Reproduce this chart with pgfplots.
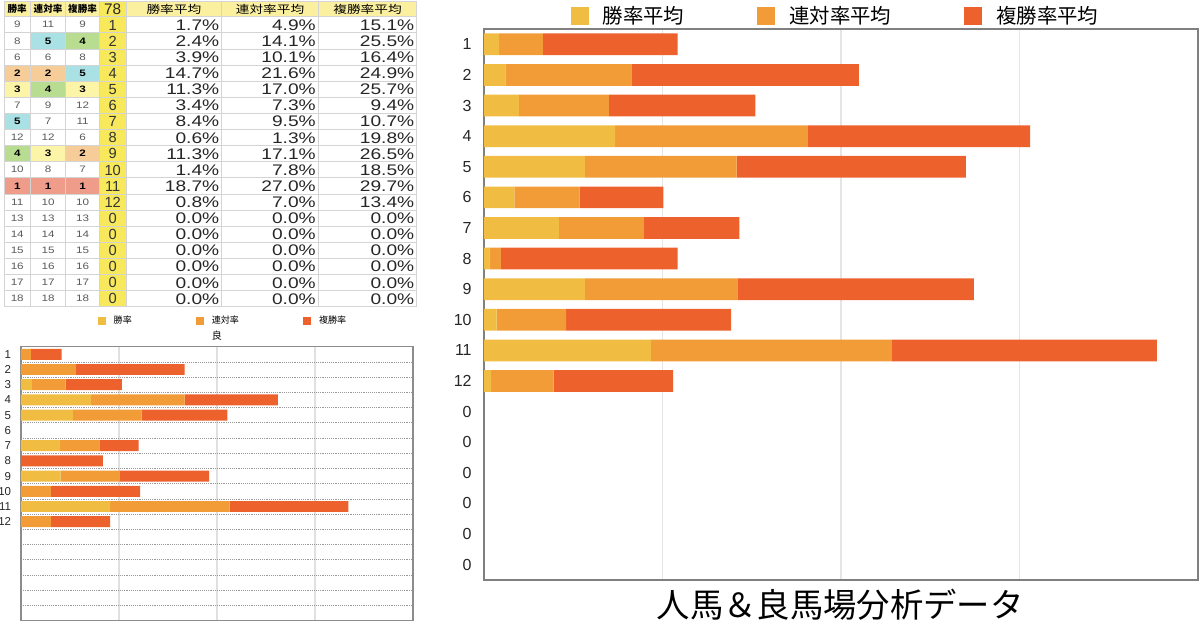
\documentclass[border=0pt]{standalone}
\usepackage{pgfplots}
\pgfplotsset{compat=1.18}
\usepackage{pgfplotstable}
\usepackage{fontspec}
\setmainfont{Liberation Sans}
\newfontfamily\jp{Noto Sans CJK JP}
\newfontfamily\tabnum{Liberation Sans}[FakeStretch=1.25]
\newfontfamily\tabjp{Noto Sans CJK JP}[FakeStretch=1.25]

\definecolor{cY}{HTML}{F0BD42}
\definecolor{cO}{HTML}{F29C38}
\definecolor{cR}{HTML}{EC612C}
\definecolor{rk1}{HTML}{EF9C8A}
\definecolor{rk2}{HTML}{F6CC98}
\definecolor{rk3}{HTML}{FCF5A8}
\definecolor{rk4}{HTML}{B8DC90}
\definecolor{rk5}{HTML}{A9E1E4}
\definecolor{hdr}{HTML}{FBF0A0}
\definecolor{col78}{HTML}{F8E85C}
\definecolor{tgrid}{HTML}{D4D4D4}

\pgfplotstableread{
r win ren fuku
1 1.7 4.9 15.1
2 2.4 14.1 25.5
3 3.9 10.1 16.4
4 14.7 21.6 24.9
5 11.3 17.0 25.7
6 3.4 7.3 9.4
7 8.4 9.5 10.7
8 0.6 1.3 19.8
9 11.3 17.1 26.5
10 1.4 7.8 18.5
11 18.7 27.0 29.7
12 0.8 7.0 13.4
13 0 0 0
14 0 0 0
15 0 0 0
16 0 0 0
17 0 0 0
18 0 0 0
}\bigdata

\pgfplotstableread{
r win ren fuku
1 0 2.0 6.3
2 0 11.2 22.2
3 2.2 6.9 11.5
4 14.3 19.1 19.0
5 10.6 14.0 17.5
6 0 0 0
7 8.0 8.0 8.0
8 0 0 16.7
9 8.1 12.1 18.2
10 0 6.1 18.2
11 18.2 24.4 24.2
12 0 6.1 12.1
13 0 0 0
14 0 0 0
15 0 0 0
16 0 0 0
17 0 0 0
18 0 0 0
}\smalldata

\pgfplotsset{
  sqbig/.style={legend image code/.code={\fill[##1] (0pt,-6.75pt) rectangle (13.5pt,6.75pt);}},
  sqsmall/.style={legend image code/.code={\fill[##1] (0pt,-3pt) rectangle (6pt,3pt);}},
}

% rank cell: xl xr yt yb value
\newcommand\rk[5]{%
  \ifnum#5<6 \fill[rk#5] (#1,#3) rectangle (#2,#4);%
    \node[inner sep=0pt,font=\tabnum\bfseries\fontsize{7}{7}\selectfont,text=black] at ({(#1+#2)/2},{(#3+#4)/2}) {#5};%
  \else
    \node[inner sep=0pt,font=\tabnum\fontsize{7}{7}\selectfont,text=black!65] at ({(#1+#2)/2},{(#3+#4)/2}) {#5};%
  \fi}

\begin{document}
\begin{tikzpicture}
\path[use as bounding box] (0,0) rectangle (900pt,-467.25pt);

% ---------- table ----------
\begin{scope}[x=0.75pt,y=-0.75pt]
  \fill[hdr] (4,1) rectangle (416.7,16.7);
  \fill[col78] (99.5,1) rectangle (126,306.7);
  \foreach \i/\a/\b/\c/\n/\p/\q/\r in {
    1/9/11/9/1/1.7/4.9/15.1,
    2/8/5/4/2/2.4/14.1/25.5,
    3/6/6/8/3/3.9/10.1/16.4,
    4/2/2/5/4/14.7/21.6/24.9,
    5/3/4/3/5/11.3/17.0/25.7,
    6/7/9/12/6/3.4/7.3/9.4,
    7/5/7/11/7/8.4/9.5/10.7,
    8/12/12/6/8/0.6/1.3/19.8,
    9/4/3/2/9/11.3/17.1/26.5,
    10/10/8/7/10/1.4/7.8/18.5,
    11/1/1/1/11/18.7/27.0/29.7,
    12/11/10/10/12/0.8/7.0/13.4,
    13/13/13/13/0/0.0/0.0/0.0,
    14/14/14/14/0/0.0/0.0/0.0,
    15/15/15/15/0/0.0/0.0/0.0,
    16/16/16/16/0/0.0/0.0/0.0,
    17/17/17/17/0/0.0/0.0/0.0,
    18/18/18/18/0/0.0/0.0/0.0}{
    \pgfmathsetmacro\yt{16.7+(\i-1)*16.11}
    \pgfmathsetmacro\yb{\yt+16.11}
    \pgfmathsetmacro\yc{\yt+8.3}
    \rk{4}{30.5}{\yt}{\yb}{\a}
    \rk{30.5}{65.7}{\yt}{\yb}{\b}
    \rk{65.7}{99.5}{\yt}{\yb}{\c}
    \node[inner sep=0pt,font=\fontsize{11}{11}\selectfont,text=black!80] at (112.75,\yc) {\n};
    \node[inner sep=0pt,anchor=east,font=\tabnum\fontsize{11.5}{11.5}\selectfont,text=black!85] at (219.5,\yc) {\p\%};
    \node[inner sep=0pt,anchor=east,font=\tabnum\fontsize{11.5}{11.5}\selectfont,text=black!85] at (316,\yc) {\q\%};
    \node[inner sep=0pt,anchor=east,font=\tabnum\fontsize{11.5}{11.5}\selectfont,text=black!85] at (414.5,\yc) {\r\%};
  }
  \foreach \k in {0,...,18}{\draw[tgrid,line width=0.5pt] (4,{16.7+\k*16.11}) -- (416.7,{16.7+\k*16.11});}
  \draw[tgrid,line width=0.5pt] (4,1) -- (416.7,1);
  \foreach \x in {4,30.5,65.7,99.5,126,221.7,318.3,416.7}{\draw[tgrid,line width=0.5pt] (\x,1) -- (\x,306.7);}
  % headers
  \node[inner sep=0pt,font=\jp\bfseries\fontsize{7.2}{7.2}\selectfont] at (17.25,9) {勝率};
  \node[inner sep=0pt,font=\jp\bfseries\fontsize{7.2}{7.2}\selectfont] at (48.1,9) {連対率};
  \node[inner sep=0pt,font=\jp\bfseries\fontsize{7.2}{7.2}\selectfont] at (82.6,9) {複勝率};
  \node[inner sep=0pt,font=\fontsize{11.5}{11.5}\selectfont,text=black!85] at (112.75,9.3) {78};
  \node[inner sep=0pt,font=\tabjp\fontsize{8.2}{8.2}\selectfont] at (173.85,9) {勝率平均};
  \node[inner sep=0pt,font=\tabjp\fontsize{8.2}{8.2}\selectfont] at (270,9) {連対率平均};
  \node[inner sep=0pt,font=\tabjp\fontsize{8.2}{8.2}\selectfont] at (367.5,9) {複勝率平均};
\end{scope}

% ---------- small chart ----------
\begin{axis}[
  at={(15.75pt,-465.5pt)}, anchor=south west,
  scale only axis, width=294pt, height=205.5pt,
  xbar stacked, bar width=0.72,
  enlargelimits=false,
  xmin=0, xmax=80, ymin=0.5, ymax=18.5, y dir=reverse,
  xtick={20,40,60}, xticklabels={}, xmajorgrids,
  major grid style={draw=black!12, line width=0.9pt},
  ytick={1,...,18}, yticklabels={1,2,3,4,5,6,7,8,9,10,11,12,{},{},{},{},{},{}},
  minor ytick={1.5,2.5,...,17.5}, yminorgrids,
  minor grid style={densely dotted, draw=black!40, line width=0.5pt},
  major tick length=0pt, minor tick length=0pt,
  axis line style={draw=black!45, line width=0.9pt},
  yticklabel style={font=\fontsize{8.6}{9}\selectfont, text=black!85, xshift=-3.9pt},
  title={\jp 良},
  every axis title/.style={at={(0.5,1)}, anchor=center, yshift=8pt, inner sep=0pt, font=\fontsize{7.5}{8}\selectfont},
  legend style={at={(0.5,1)}, anchor=center, yshift=19.3pt, xshift=3.75pt, draw=none, fill=none,
    font=\jp\fontsize{6.8}{7}\selectfont, legend columns=3, nodes={inner sep=0pt},
    /tikz/every odd column/.append style={column sep=6pt},
    /tikz/every even column/.append style={column sep=48pt}},
  legend cell align=left,
]
\addplot[fill=cY, draw=none, sqsmall] table[x=win, y=r] {\smalldata};
\addplot[fill=cO, draw=none, sqsmall] table[x=ren, y=r] {\smalldata};
\addplot[fill=cR, draw=none, sqsmall] table[x=fuku, y=r] {\smalldata};
\legend{勝率, 連対率, 複勝率}
\end{axis}

% ---------- big chart ----------
\begin{axis}[
  at={(363pt,-435pt)}, anchor=south west,
  scale only axis, width=535.5pt, height=413.25pt,
  xbar stacked, bar width=0.71,
  enlargelimits=false,
  xmin=0, xmax=80, ymin=0.5, ymax=18.5, y dir=reverse,
  xtick={20,40,60}, xticklabels={}, xmajorgrids,
  major grid style={draw=black!10, line width=0.8pt},
  ytick={1,...,18}, yticklabels={1,2,3,4,5,6,7,8,9,10,11,12,0,0,0,0,0,0},
  major tick length=0pt,
  axis line style={draw=black!50, line width=0.9pt},
  yticklabel style={font=\fontsize{12}{12}\selectfont, text=black!85, xshift=-5.75pt},
  legend style={at={(0.5,1)}, anchor=center, yshift=10pt, xshift=-4.9pt, draw=none, fill=none,
    font=\jp\fontsize{15.3}{16}\selectfont, legend columns=3, nodes={inner sep=0pt},
    /tikz/every odd column/.append style={column sep=10.5pt},
    /tikz/every even column/.append style={column sep=54.75pt}},
  legend cell align=left,
]
\addplot[fill=cY, draw=none, sqbig] table[x=win, y=r] {\bigdata};
\addplot[fill=cO, draw=none, sqbig] table[x=ren, y=r] {\bigdata};
\addplot[fill=cR, draw=none, sqbig] table[x=fuku, y=r] {\bigdata};
\legend{勝率平均, 連対率平均, 複勝率平均}
\end{axis}

\node[font=\jp\fontsize{25}{26}\selectfont, inner sep=0pt] at (630pt,-453.75pt) {人馬＆良馬場分析データ};
\end{tikzpicture}
\end{document}
